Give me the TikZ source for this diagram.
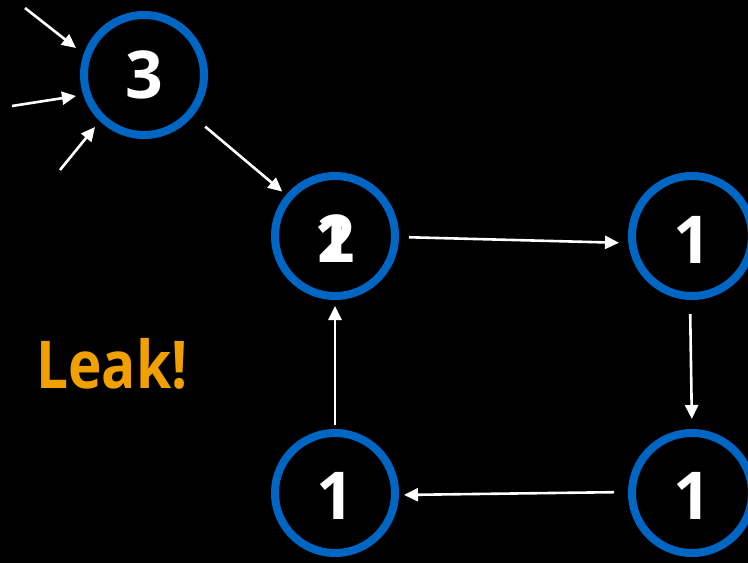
\documentclass[tikz,border=0pt]{standalone}
\usepackage{fontspec}
\setmainfont{Open Sans}
\usetikzlibrary{arrows.meta}
\definecolor{ringblue}{RGB}{0,102,196}
\definecolor{leakorange}{RGB}{240,160,0}
\begin{document}
\begin{tikzpicture}[x=1pt,y=-1pt,
  ring/.style={circle,draw=ringblue,line width=8pt,minimum size=120pt,inner sep=0pt,text=white,font=\fontsize{66}{66}\selectfont\bfseries},
  link/.style={draw=white,line width=2.6pt,-{Triangle[length=14pt,width=13pt]}},
  lbl/.style={text=white,font=\fontsize{66}{66}\selectfont\bfseries,inner sep=0pt}]
\fill[black] (0,0) rectangle (748,563);
\useasboundingbox (0,0) rectangle (748,563);
\node[ring] (n3) at (144,75) {3};
\node[ring] (c) at (335,236) {};
\node[lbl] (c1) at (333,239) {1};
\node[lbl] (c2) at (336,239) {2};
\node[ring] (rt) at (692,236) {};
\node[lbl] (rtl) at (692,240) {1};
\node[ring] (rb) at (692,493) {};
\node[lbl] (rbl) at (692,496) {1};
\node[ring] (lb) at (335,493) {};
\node[lbl] (lbl1) at (335,496) {1};
\node[text=leakorange,font=\fontsize{66}{66}\selectfont\bfseries,anchor=west,inner sep=0pt] (leak) at (36,364) {\scalebox{0.86}[1]{Leak!}};
\coordinate (a1) at (25,8);
\coordinate (a2) at (12,106);
\coordinate (a3) at (60,170);
\draw[link] (a1) -- (76,48);
\draw[link] (a2) -- (76,96);
\draw[link] (a3) -- (95,127);
\draw[link,shorten <=16pt,shorten >=5pt] (n3) -- (c);
\draw[link,shorten <=10pt,shorten >=9pt] ([yshift=-1pt]c.east) -- ([yshift=-7pt]rt.west);
\draw[link,shorten <=14pt,shorten >=10pt] ([xshift=-2pt]rt.south) -- (rb.north);
\draw[link,shorten <=14pt,shorten >=5pt] ([yshift=1pt]rb.west) -- ([yshift=-2pt]lb.east);
\draw[link,shorten <=4pt,shorten >=6pt] (lb.north) -- (c.south);
\end{tikzpicture}
\end{document}
